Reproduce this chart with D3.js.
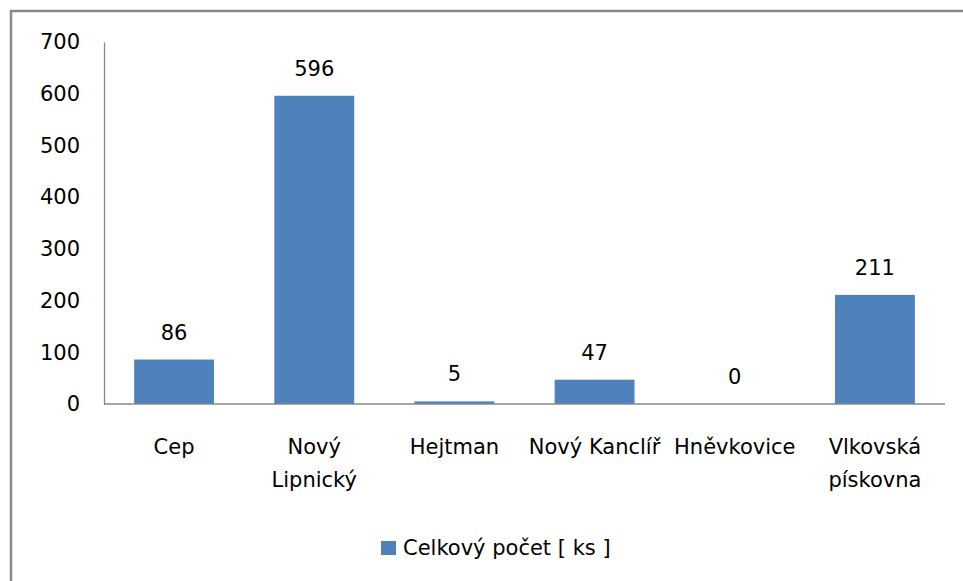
<!DOCTYPE html>
<html>
<head>
<meta charset="utf-8">
<script src="https://cdn.jsdelivr.net/npm/d3@7"></script>
<style>
  body { margin: 0; background: #fff; }
  text { font-family: "DejaVu Sans", sans-serif; fill: #000; }
</style>
</head>
<body>
<svg id="chart" width="963" height="581"></svg>
<script>
// data
var categories = ["Cep", "Nový Lipnický", "Hejtman", "Nový Kanclíř", "Hněvkovice", "Vlkovská pískovna"];
var catLines = [["Cep"], ["Nový", "Lipnický"], ["Hejtman"], ["Nový Kanclíř"], ["Hněvkovice"], ["Vlkovská", "pískovna"]];
var values = [86, 596, 5, 47, 0, 211];
var yTicks = [0, 100, 200, 300, 400, 500, 600, 700];
var seriesName = "Celkový počet [ ks ]";

var svg = d3.select("#chart");

// outer frame (runs off the right / bottom edge like the source)
svg.append("rect")
  .attr("x", 11).attr("y", 11)
  .attr("width", 970).attr("height", 600)
  .attr("fill", "none")
  .attr("stroke", "#878787")
  .attr("stroke-width", 2.5);

var plotLeft = 104, plotRight = 945, plotTop = 42, plotBottom = 404;

var x = d3.scaleBand()
  .domain(categories)
  .range([plotLeft, plotRight])
  .paddingInner(0.43)
  .paddingOuter(0.215);

var y = d3.scaleLinear()
  .domain([0, 700])
  .range([plotBottom, plotTop]);

// y axis labels, no tick marks
var yAxis = d3.axisLeft(y).tickValues(yTicks).tickSize(0).tickPadding(24);
var gy = svg.append("g").attr("transform", `translate(${plotLeft},0)`).call(yAxis);
gy.select(".domain").attr("stroke", "#878787").attr("stroke-width", 1.3);
gy.selectAll("text").style("font-size", "21px").style("font-family", "DejaVu Sans").attr("fill", "#000");

// bars
svg.selectAll(".bar")
  .data(values)
  .enter()
  .append("rect")
  .attr("class", "bar")
  .attr("x", (d, i) => x(categories[i]))
  .attr("width", x.bandwidth())
  .attr("y", d => y(d))
  .attr("height", d => y(0) - y(d))
  .attr("fill", "#4f81bd");

// x axis baseline
svg.append("line")
  .attr("x1", plotLeft).attr("x2", plotRight)
  .attr("y1", plotBottom).attr("y2", plotBottom)
  .attr("stroke", "#878787").attr("stroke-width", 1.3);

// value labels
svg.selectAll(".val")
  .data(values)
  .enter()
  .append("text")
  .attr("class", "val")
  .attr("x", (d, i) => x(categories[i]) + x.bandwidth() / 2)
  .attr("y", d => y(d) - 20)
  .attr("text-anchor", "middle")
  .style("font-size", "21px")
  .text(d => d);

// category labels
var step = x.step();
catLines.forEach(function(lines, i) {
  var cx = plotLeft + step * i + step / 2;
  lines.forEach(function(line, j) {
    svg.append("text")
      .attr("x", cx)
      .attr("y", 454 + j * 33)
      .attr("text-anchor", "middle")
      .style("font-size", "21px")
      .text(line);
  });
});

// legend
svg.append("rect")
  .attr("x", 381).attr("y", 541)
  .attr("width", 15).attr("height", 14)
  .attr("fill", "#4f81bd");
svg.append("text")
  .attr("x", 403).attr("y", 555)
  .style("font-size", "21px")
  .text(seriesName);
</script>
</body>
</html>
